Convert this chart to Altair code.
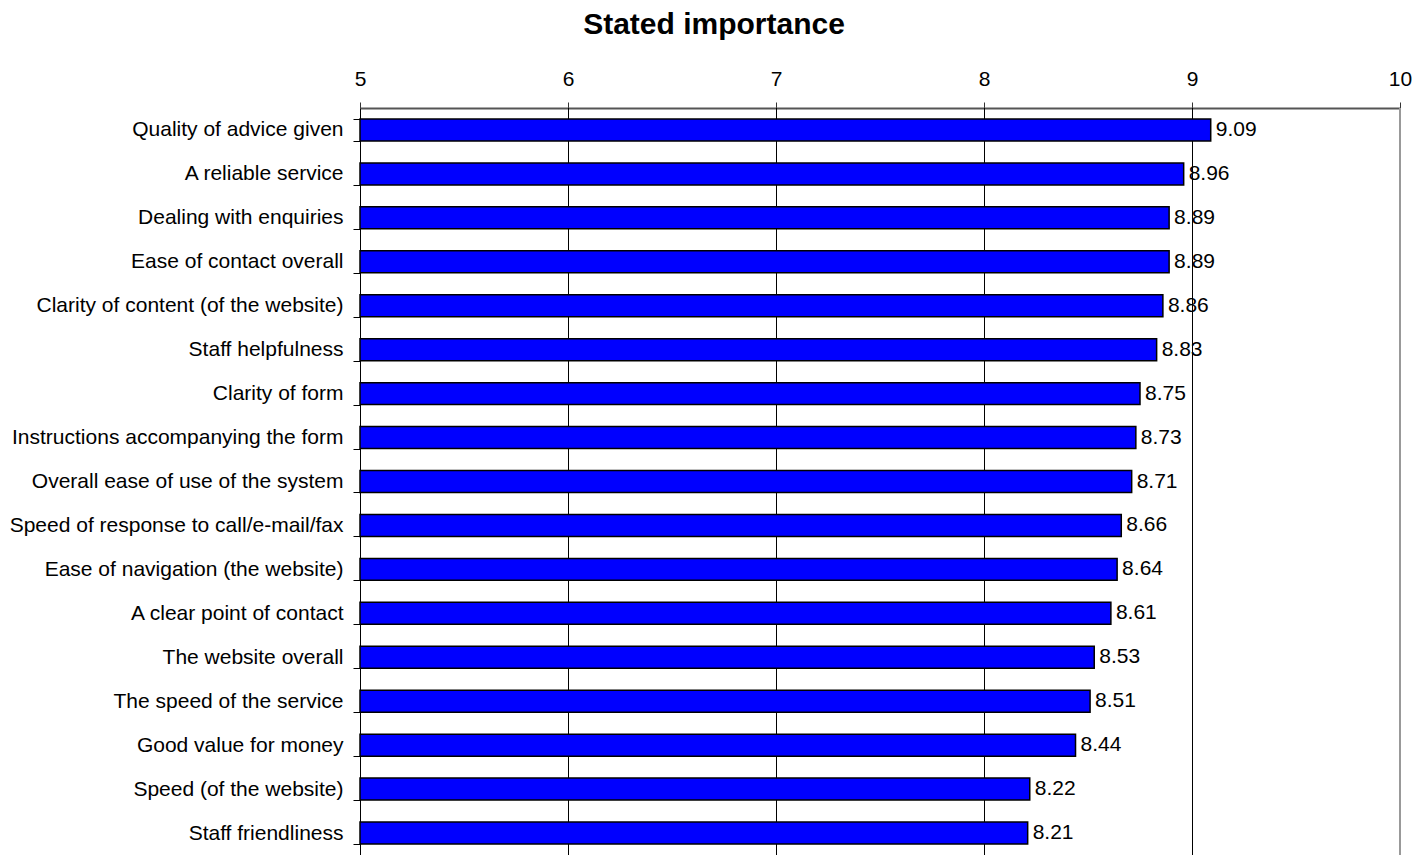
import altair as alt
import pandas as pd

categories = [
    "Quality of advice given",
    "A reliable service",
    "Dealing with enquiries",
    "Ease of contact overall",
    "Clarity of content (of the website)",
    "Staff helpfulness",
    "Clarity of form",
    "Instructions accompanying the form",
    "Overall ease of use of the system",
    "Speed of response to call/e-mail/fax",
    "Ease of navigation (the website)",
    "A clear point of contact",
    "The website overall",
    "The speed of the service",
    "Good value for money",
    "Speed (of the website)",
    "Staff friendliness",
]
values = [9.09, 8.96, 8.89, 8.89, 8.86, 8.83, 8.75, 8.73, 8.71, 8.66,
          8.64, 8.61, 8.53, 8.51, 8.44, 8.22, 8.21]
x_ticks = [5, 6, 7, 8, 9, 10]
grid_values = [6, 7, 8, 9]
border_values = [10]

df = pd.DataFrame({"item": categories, "value": values, "base": [5] * len(values)})
df["label"] = [f"{v:.2f}" for v in values]
grid_df = pd.DataFrame({"g": grid_values})
border_df = pd.DataFrame({"g": border_values})

FONT = "Liberation Sans"

xscale = alt.Scale(domain=[5, 10], nice=False, zero=False)
yscale = alt.Scale(paddingInner=0.5, paddingOuter=0.25)

grid = alt.Chart(grid_df).mark_rule(color="black", strokeWidth=1, xOffset=0.5).encode(
    x=alt.X("g:Q", scale=xscale)
)
border = alt.Chart(border_df).mark_rule(color="#999999", strokeWidth=2).encode(
    x=alt.X("g:Q", scale=xscale)
)

bars = alt.Chart(df).mark_bar(
    color="#0000FF", stroke="black", strokeWidth=1.5
).encode(
    x=alt.X(
        "value:Q",
        scale=xscale,
        axis=alt.Axis(
            orient="top", values=x_ticks, title=None, grid=False,
            labelFont=FONT, labelFontSize=21, labelColor="black",
            labelPadding=13, tickSize=6, tickColor="#333333",
            domainColor="#555555", domainWidth=2, format="d",
            labelFlush=False,
        ),
    ),
    x2="base:Q",
    y=alt.Y(
        "item:N",
        sort=categories,
        scale=yscale,
        axis=alt.Axis(
            title=None, labelFont=FONT, labelFontSize=21, labelColor="black",
            labelPadding=10, tickSize=7, tickColor="black", tickBand="extent",
            domainColor="black", domainWidth=1, labelLimit=400,
        ),
    ),
)

text = alt.Chart(df).mark_text(
    align="left", baseline="middle", dx=5, font=FONT, fontSize=21, color="black"
).encode(
    x=alt.X("value:Q", scale=xscale),
    y=alt.Y("item:N", sort=categories, scale=yscale),
    text="label:N",
)

chart = alt.layer(grid, border, bars, text).properties(
    width=1040,
    height=747,
    autosize=alt.AutoSizeParams(type="none"),
    padding={"left": 360, "top": 108, "right": 26, "bottom": 0},
    title=alt.TitleParams(
        "Stated importance", font=FONT, fontSize=30, fontWeight="bold",
        color="black", anchor="middle", frame="group", dx=-166, offset=28,
    ),
).configure_view(stroke=None)

chart.save("out.html", embed_options={"renderer": "svg", "actions": False})
